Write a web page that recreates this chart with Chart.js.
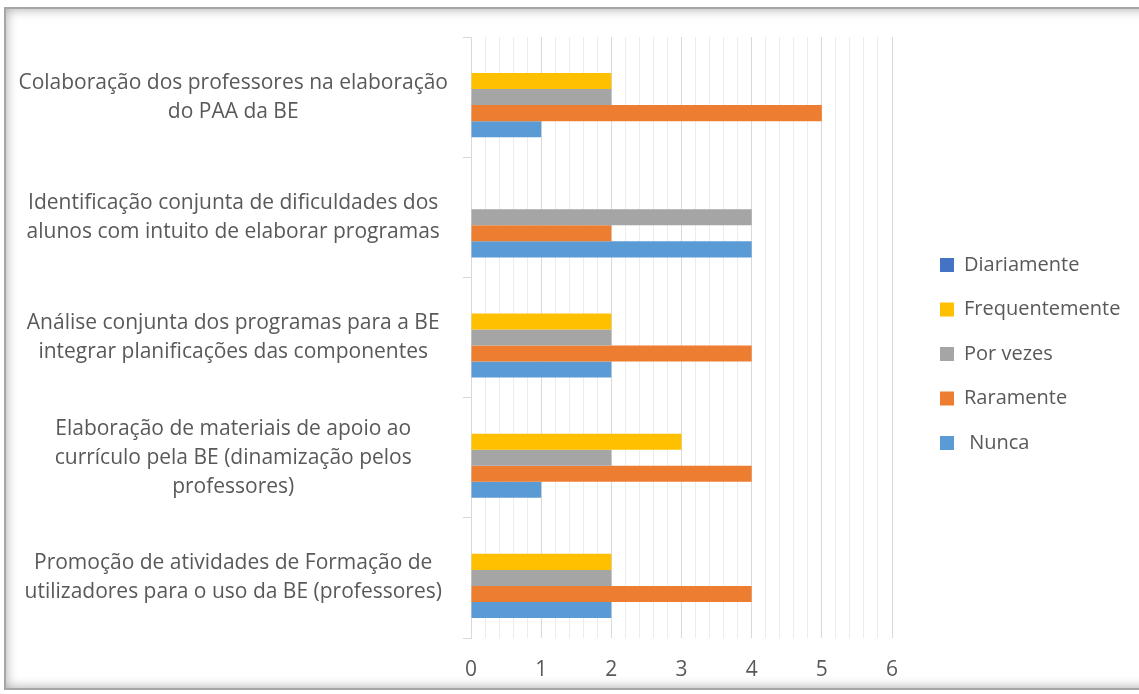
<!DOCTYPE html>
<html>
<head>
<meta charset="utf-8">
<script src="https://cdn.jsdelivr.net/npm/chart.js@4.4.1/dist/chart.umd.min.js"></script>
<style>
  html, body { margin: 0; padding: 0; background: #fff; overflow: hidden; }
  #frame {
    position: absolute; left: 4px; top: 7px; width: 1170px; height: 679px;
    border: 2px solid #a6a6a6;
    box-shadow: inset 0 0 12px rgba(0,0,0,0.35);
  }
  #myChart { position: absolute; left: 0; top: 0; }
</style>
</head>
<body>
<div id="frame"></div>
<canvas id="myChart" width="1139" height="694"></canvas>
<script>
const categories = [
  ['Colaboração dos professores na elaboração', 'do PAA da BE'],
  ['Identificação conjunta de dificuldades dos', 'alunos com intuito de elaborar programas'],
  ['Análise conjunta dos programas para a BE', 'integrar planificações das componentes'],
  ['Elaboração de materiais de apoio ao', 'currículo pela BE (dinamização pelos', 'professores)'],
  ['Promoção de atividades de Formação de', 'utilizadores para o uso da BE (professores)']
];
const diariamente    = [0, 0, 0, 0, 0];
const frequentemente = [2, 0, 2, 3, 2];
const porVezes       = [2, 4, 2, 2, 2];
const raramente      = [5, 2, 4, 4, 4];
const nunca          = [1, 4, 2, 1, 2];

const FONT = "'Open Sans', sans-serif";
Chart.defaults.font.family = FONT;
Chart.defaults.color = '#595959';

const isWhole = v => Math.abs(v - Math.round(v)) < 1e-6;

// legend sizing: keep the legend column starting at x=940
const legendFont = 20, legendPad = 24.5, boxW = 14;
const m = document.createElement('canvas').getContext('2d');
m.font = legendFont + 'px ' + FONT;
const widestLegend = m.measureText('Frequentemente').width;
const legendWidth = legendPad + boxW + legendFont / 2 + widestLegend + 10;
const legendLeft = 940 - legendPad;
const rightPad = Math.max(0, 1139 - legendLeft - legendWidth);

const ctx = document.getElementById('myChart');
new Chart(ctx, {
  type: 'bar',
  data: {
    labels: categories,
    datasets: [
      { label: 'Diariamente', data: diariamente, backgroundColor: '#4472C4' },
      { label: 'Frequentemente', data: frequentemente, backgroundColor: '#FFC000' },
      { label: 'Por vezes', data: porVezes, backgroundColor: '#A5A5A5' },
      { label: 'Raramente', data: raramente, backgroundColor: '#ED7D31' },
      { label: ' Nunca', data: nunca, backgroundColor: '#5B9BD5' }
    ]
  },
  options: {
    indexAxis: 'y',
    responsive: false,
    animation: false,
    categoryPercentage: 0.667,
    barPercentage: 1,
    layout: { padding: { left: 0, top: 37, right: rightPad, bottom: 0 } },
    scales: {
      x: {
        min: 0,
        max: 6,
        ticks: {
          stepSize: 0.2,
          autoSkip: false,
          maxRotation: 0,
          padding: 19,
          font: { size: 21 },
          callback: v => isWhole(v) ? Math.round(v) : ''
        },
        grid: {
          drawTicks: false,
          color: c => isWhole(c.tick.value) ? '#d9d9d9' : '#ececec'
        },
        border: { display: false },
        afterFit: s => { s.height = 56; }
      },
      y: {
        ticks: {
          crossAlign: 'center',
          padding: 15,
          font: { size: 21, lineHeight: 1.38 }
        },
        grid: { drawOnChartArea: false, tickLength: 8, color: '#d9d9d9' },
        border: { display: true, color: '#d9d9d9' },
        afterFit: s => { s.width = 471; s.paddingTop = 0; s.paddingBottom = 0; }
      },
      gap: {
        type: 'category',
        position: 'right',
        display: false,
        afterFit: s => { s.width = legendLeft - 892; }
      }
    },
    plugins: {
      legend: {
        position: 'right',
        align: 'center',
        fullSize: false,
        onClick: null,
        title: { display: true, text: '', font: { size: 10, lineHeight: 1.2 }, padding: 10.5 },
        labels: {
          boxWidth: boxW,
          boxHeight: boxW,
          padding: legendPad,
          font: { size: legendFont },
          color: '#595959'
        }
      },
      tooltip: { enabled: false }
    }
  }
});
</script>
</body>
</html>
